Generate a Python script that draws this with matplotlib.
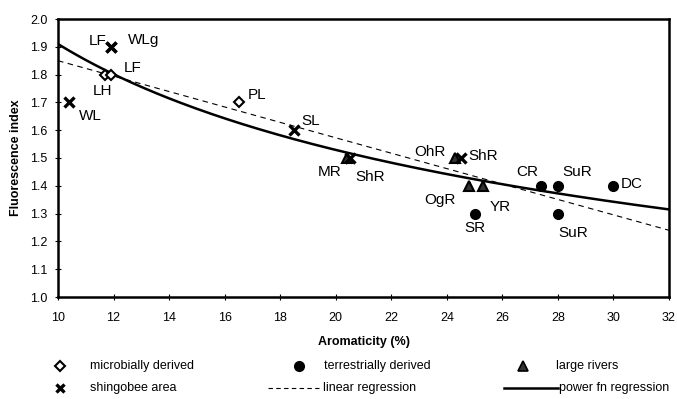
import numpy as np
import matplotlib
matplotlib.use("Agg")
import matplotlib.pyplot as plt
from matplotlib.lines import Line2D

plt.rcParams['font.family'] = ['Liberation Sans', 'DejaVu Sans']

# ---- data ----
micro_x = [11.7, 11.9, 16.5]
micro_y = [1.8, 1.8, 1.7]
micro_lab = ["LH", "LF", "PL"]

terr_x = [25.0, 27.4, 28.0, 28.0, 30.0]
terr_y = [1.3, 1.4, 1.4, 1.3, 1.4]
terr_lab = ["SR", "CR", "SuR", "SuR", "DC"]

river_x = [20.4, 24.3, 24.8, 25.3]
river_y = [1.5, 1.5, 1.4, 1.4]
river_lab = ["MR", "OhR", "OgR", "YR"]

shing_x = [11.9, 11.9, 10.4, 18.5, 20.5, 24.5]
shing_y = [1.9, 1.9, 1.7, 1.6, 1.5, 1.5]
shing_lab = ["LF", "WLg", "WL", "SL", "ShR", "ShR"]

# regression lines (end values)
lin_x = [10, 32]
lin_y = [1.85, 1.24]
power_end_x = [10, 32]
power_end_y = [1.91, 1.315]

x_ticks = list(range(10, 33, 2))
y_ticks = [round(1.0 + 0.1 * i, 1) for i in range(11)]

# label offsets (data units) relative to each point
micro_off = [(-0.08, -0.06), (0.8, 0.024), (0.67, 0.026)]
terr_off = [(0.02, -0.05), (-0.5, 0.05), (0.69, 0.05), (0.55, -0.07), (0.67, 0.006)]
river_off = [(-0.61, -0.05), (-0.9, 0.022), (-1.04, -0.05), (0.62, -0.075)]
shing_off = [(-0.46, 0.02), (1.2, 0.024), (0.75, -0.05), (0.61, 0.032), (0.74, -0.068), (0.8, 0.007)]

fig = plt.figure(figsize=(6.77, 3.99), dpi=100)
ax = fig.add_axes([58/677, 1-297/399, (669-58)/677, (297-19)/399])

# regression curves
xs = np.linspace(10, 32, 200)
ax.plot(lin_x, lin_y, ls=(0, (5, 4)), color='black', lw=0.8, zorder=2)
b = np.log(power_end_y[1] / power_end_y[0]) / np.log(power_end_x[1] / power_end_x[0])
a = power_end_y[0] / power_end_x[0] ** b
ax.plot(xs, a * xs ** b, color='black', lw=1.8, zorder=2)

ax.plot(micro_x, micro_y, ls='none', marker='D', ms=5, mfc='white', mec='black', mew=1.5, zorder=3)
ax.plot(terr_x, terr_y, ls='none', marker='o', ms=7, mfc='black', mec='black', zorder=3)
ax.plot(river_x, river_y, ls='none', marker='^', ms=7.5, mfc='#333333', mec='black', mew=1.5, zorder=3)
ax.plot(shing_x, shing_y, ls='none', marker='x', ms=7, mec='black', mew=2.4, zorder=4)

lab_fs = 11
for xs_, ys_, labs, offs in [(micro_x, micro_y, micro_lab, micro_off),
                             (terr_x, terr_y, terr_lab, terr_off),
                             (river_x, river_y, river_lab, river_off),
                             (shing_x, shing_y, shing_lab, shing_off)]:
    for x, y, l, (dx, dy) in zip(xs_, ys_, labs, offs):
        ax.text(x + dx, y + dy, l, ha='center', va='center', fontsize=lab_fs, zorder=5)

ax.set_xlim(10, 32)
ax.set_ylim(1.0, 2.0)
ax.set_xticks(x_ticks)
ax.set_yticks(y_ticks)
ax.set_yticklabels([f"{v:.1f}" for v in y_ticks])
ax.tick_params(direction='inout', length=5, width=0.8, labelsize=9)
ax.tick_params(axis='x', pad=8)
ax.tick_params(axis='y', pad=5)
for s in ax.spines.values():
    s.set_linewidth(1.8)
ax.set_xlabel("Aromaticity (%)", fontsize=9, fontweight='bold', labelpad=9)
ax.set_ylabel("Fluorescence index", fontsize=9, fontweight='bold', labelpad=6)

# manual legend
def fx(px):
    return px / 677
def fy(py):
    return 1 - py / 399

r1, r2 = 366, 388
leg_fs = 9
fig.add_artist(Line2D([fx(60)], [fy(r1)], marker='D', ms=5, mfc='white', mec='black', mew=1.5, ls='none'))
fig.text(fx(90), fy(r1), "microbially derived", fontsize=leg_fs, va='center')
fig.add_artist(Line2D([fx(60)], [fy(r2)], marker='x', ms=6, mec='black', mew=2.4, ls='none'))
fig.text(fx(90), fy(r2), "shingobee area", fontsize=leg_fs, va='center')
fig.add_artist(Line2D([fx(299)], [fy(r1)], marker='o', ms=7, mfc='black', mec='black', ls='none'))
fig.text(fx(324), fy(r1), "terrestrially derived", fontsize=leg_fs, va='center')
fig.add_artist(Line2D([fx(268), fx(319)], [fy(r2), fy(r2)], color='black', lw=0.8, ls=(0, (4, 3))))
fig.text(fx(323), fy(r2), "linear regression", fontsize=leg_fs, va='center')
fig.add_artist(Line2D([fx(523)], [fy(r1)], marker='^', ms=7, mfc='#333333', mec='black', mew=1.2, ls='none'))
fig.text(fx(556), fy(r1), "large rivers", fontsize=leg_fs, va='center')
fig.add_artist(Line2D([fx(504), fx(558)], [fy(r2), fy(r2)], color='black', lw=1.8))
fig.text(fx(559), fy(r2), "power fn regression", fontsize=leg_fs, va='center')

fig.savefig("out.png", dpi=100)
